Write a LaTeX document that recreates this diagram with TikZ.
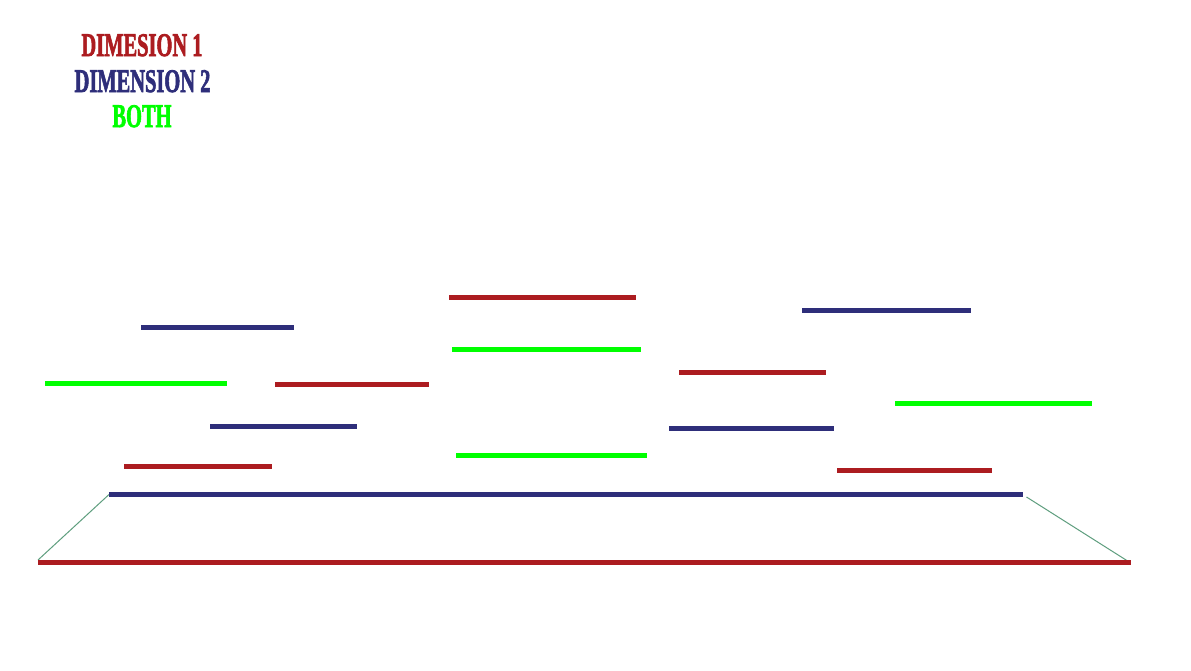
\documentclass[tikz,border=0pt]{standalone}
\usepackage{fontspec}
\usepackage{graphicx}
\setmainfont{Liberation Serif}
\newfontfamily\legfont{Liberation Serif}[BoldFeatures={FakeBold=2.5}]
\definecolor{dimred}{HTML}{AC1C20}
\definecolor{dimnavy}{HTML}{2E2E7A}
\definecolor{dimgreen}{HTML}{00FF00}
\definecolor{guide}{HTML}{5E9E7E}
\tikzset{
  seg/.style={line width=5pt},
  d1/.style={seg, dimred},
  d2/.style={seg, dimnavy},
  bth/.style={seg, dimgreen},
  guideline/.style={guide, line width=1pt},
  legend/.style={anchor=base, inner sep=0pt, font=\legfont\fontsize{33}{33}\selectfont\bfseries}
}
\begin{document}
\begin{tikzpicture}[x=1pt,y=-1pt]
\useasboundingbox (0,0) rectangle (1191,670);
\fill[white] (0,0) rectangle (1191,670);
% legend
\node[legend, text=dimred]   (l1) at (142,56) {\scalebox{0.62}[1]{DIMESION 1}};
\node[legend, text=dimnavy]  (l2) at (142.5,92) {\scalebox{0.62}[1]{DIMENSION 2}};
\node[legend, text=dimgreen] (l3) at (142,127) {\scalebox{0.62}[1]{BOTH}};
% segments
\draw[d2]  (141,327) -- (294,327);
\draw[bth] (45,383) -- (227,383);
\draw[d1]  (275,384) -- (429,384);
\draw[d2]  (210,426) -- (357,426);
\draw[d1]  (124,466) -- (272,466);
\draw[d1]  (449,297) -- (636,297);
\draw[bth] (452,349.5) -- (641,349.5);
\draw[bth] (456,455) -- (647,455);
\draw[d1]  (679,372) -- (826,372);
\draw[d2]  (669,428) -- (834,428);
\draw[d2]  (802,310.5) -- (971,310.5);
\draw[bth] (895,403) -- (1092,403);
\draw[d1]  (837,470) -- (992,470);
% base
\coordinate (bl) at (38,560);
\coordinate (tl) at (109,494.5);
\coordinate (tr) at (1026.5,497);
\coordinate (br) at (1130,562.5);
\draw[guideline] (bl) -- (tl);
\draw[guideline] (tr) -- (br);
\draw[d2] (109,494.5) -- (1023,494.5);
\draw[d1] (38,562) -- (1131,562);
\end{tikzpicture}
\end{document}
